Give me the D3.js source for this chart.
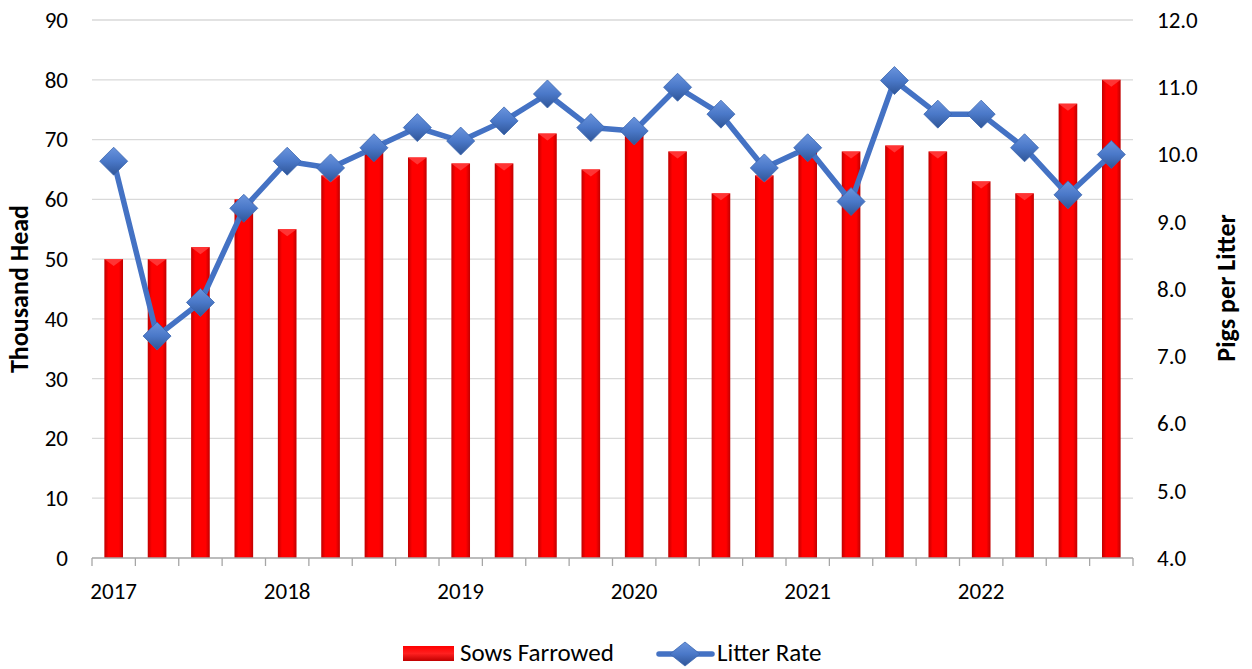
<!DOCTYPE html>
<html><head><meta charset="utf-8">
<script src="https://cdn.jsdelivr.net/npm/d3@7"></script>
<style>body{margin:0;background:#fff}svg{display:block}text{font-family:Carlito,Lato,"Open Sans",sans-serif}</style>
</head><body>
<svg id="c" width="1252" height="669"></svg>
<script>
const quarters = ["2017 Q1","2017 Q2","2017 Q3","2017 Q4","2018 Q1","2018 Q2","2018 Q3","2018 Q4","2019 Q1","2019 Q2","2019 Q3","2019 Q4","2020 Q1","2020 Q2","2020 Q3","2020 Q4","2021 Q1","2021 Q2","2021 Q3","2021 Q4","2022 Q1","2022 Q2","2022 Q3","2022 Q4"];
const sowsFarrowed = [50,50,52,60,55,64,68,67,66,66,71,65,72,68,61,64,68,68,69,68,63,61,76,80];
const litterRate = [9.9,7.3,7.8,9.2,9.9,9.8,10.1,10.4,10.2,10.5,10.9,10.4,10.35,11.0,10.6,9.8,10.1,9.3,11.1,10.6,10.6,10.1,9.4,10.0];
const leftTicks = [0,10,20,30,40,50,60,70,80,90];
const rightTicks = [4,5,6,7,8,9,10,11,12];
const yearLabels = {"2017 Q1":"2017","2018 Q1":"2018","2019 Q1":"2019","2020 Q1":"2020","2021 Q1":"2021","2022 Q1":"2022"};

const FS = 23, FL = 26, FG = 25;
const svg = d3.select("#c");
const m = {l:92, r:1133, t:20, b:558};
const x = d3.scaleBand().domain(quarters).range([m.l, m.r]).paddingInner(0.57).paddingOuter(0.285);
const yL = d3.scaleLinear().domain([0,90]).range([m.b, m.t]);
const yR = d3.scaleLinear().domain([4,12]).range([m.b, m.t]);

const defs = svg.append("defs");
const g1 = defs.append("linearGradient").attr("id","barG").attr("x1","0").attr("x2","1").attr("y1","0").attr("y2","0");
g1.append("stop").attr("offset","0").attr("stop-color","#c00000");
g1.append("stop").attr("offset","0.22").attr("stop-color","#ff0000");
g1.append("stop").attr("offset","0.78").attr("stop-color","#ff0000");
g1.append("stop").attr("offset","1").attr("stop-color","#c00000");
const g2 = defs.append("linearGradient").attr("id","dmG").attr("x1","0").attr("x2","0").attr("y1","0").attr("y2","1");
g2.append("stop").attr("offset","0").attr("stop-color","#6a94dd");
g2.append("stop").attr("offset","0.5").attr("stop-color","#4a78c8");
g2.append("stop").attr("offset","1").attr("stop-color","#2f5597");
const g3 = defs.append("linearGradient").attr("id","legG").attr("x1","0").attr("x2","0").attr("y1","0").attr("y2","1");
g3.append("stop").attr("offset","0").attr("stop-color","#ff0000");
g3.append("stop").attr("offset","0.5").attr("stop-color","#ff2020");
g3.append("stop").attr("offset","1").attr("stop-color","#c00000");

// gridlines
svg.append("g").selectAll("line").data(leftTicks.slice(1)).join("line")
  .attr("x1", m.l).attr("x2", m.r).attr("y1", d=>yL(d)).attr("y2", d=>yL(d))
  .attr("stroke","#d9d9d9").attr("stroke-width",1.3);

// left axis
const ax = svg.append("g").attr("transform",`translate(${m.l},0)`)
  .call(d3.axisLeft(yL).tickValues(leftTicks).tickSize(0).tickPadding(24));
ax.select(".domain").remove();
ax.selectAll("text").attr("font-size",FS).attr("fill","#000");

// right axis
const axR = svg.append("g").attr("transform",`translate(${m.r},0)`)
  .call(d3.axisRight(yR).tickValues(rightTicks).tickSize(0).tickPadding(24).tickFormat(d3.format(".1f")));
axR.select(".domain").remove();
axR.selectAll("text").attr("font-size",FS).attr("fill","#000");

// bars
svg.append("g").selectAll("rect").data(quarters).join("rect")
  .attr("x", d=>x(d)).attr("width", x.bandwidth())
  .attr("y", (d,i)=>yL(sowsFarrowed[i])).attr("height", (d,i)=>m.b - yL(sowsFarrowed[i]))
  .attr("fill","url(#barG)");
svg.append("g").selectAll("path").data(quarters).join("path")
  .attr("d",(d,i)=>{const x0=x(d), w=x.bandwidth(), y0=yL(sowsFarrowed[i]); return `M${x0},${y0}L${x0+w},${y0}L${x0+w/2},${y0+7}Z`;})
  .attr("fill","#ff3a3a").attr("opacity",0.9);

// x axis
const step = x.step();
const bounds = d3.range(quarters.length+1).map(i=>m.l + i*step);
svg.append("line").attr("x1",m.l).attr("x2",m.r).attr("y1",m.b).attr("y2",m.b).attr("stroke","#a6a6a6").attr("stroke-width",1.3);
svg.append("g").selectAll("line").data(bounds).join("line")
  .attr("x1",d=>d).attr("x2",d=>d).attr("y1",m.b).attr("y2",m.b+8).attr("stroke","#a6a6a6").attr("stroke-width",1.3);
svg.append("g").selectAll("text").data(quarters.filter(q=>yearLabels[q])).join("text")
  .attr("x", d=>x(d)+x.bandwidth()/2).attr("y", 599).attr("text-anchor","middle")
  .attr("font-size",FS).text(d=>yearLabels[d]);

// line
const line = d3.line().x((d,i)=>x(quarters[i])+x.bandwidth()/2).y(d=>yR(d));
svg.append("path").datum(litterRate).attr("d",line).attr("fill","none")
  .attr("stroke","#4472c4").attr("stroke-width",5.5).attr("stroke-linejoin","round");
const dm = 14;
svg.append("g").selectAll("path").data(litterRate).join("path")
  .attr("transform",(d,i)=>`translate(${x(quarters[i])+x.bandwidth()/2},${yR(d)})`)
  .attr("d",`M0,${-dm}L${dm},0L0,${dm}L${-dm},0Z`)
  .attr("fill","url(#dmG)").attr("stroke","#3a66b0").attr("stroke-width",0.8);

// axis titles
svg.append("text").attr("transform","translate(28,289) rotate(-90)").attr("text-anchor","middle")
  .attr("font-size",FL).attr("font-weight","bold").text("Thousand Head");
svg.append("text").attr("transform","translate(1235,288) rotate(-90)").attr("text-anchor","middle")
  .attr("font-size",FL).attr("font-weight","bold").text("Pigs per Litter");

// legend
const lg = svg.append("g");
lg.append("rect").attr("x",403).attr("y",646).attr("width",51).attr("height",15).attr("fill","url(#legG)");
lg.append("text").attr("x",460).attr("y",661).attr("font-size",FG).text("Sows Farrowed");
lg.append("line").attr("x1",659).attr("x2",712).attr("y1",654).attr("y2",654).attr("stroke","#4472c4").attr("stroke-width",5.5).attr("stroke-linecap","round");
lg.append("path").attr("transform","translate(685,654)").attr("d",`M0,-12L15,0L0,12L-15,0Z`).attr("fill","url(#dmG)").attr("stroke","#3a66b0").attr("stroke-width",0.8);
lg.append("text").attr("x",717).attr("y",661).attr("font-size",FG).text("Litter Rate");
</script>
</body></html>
